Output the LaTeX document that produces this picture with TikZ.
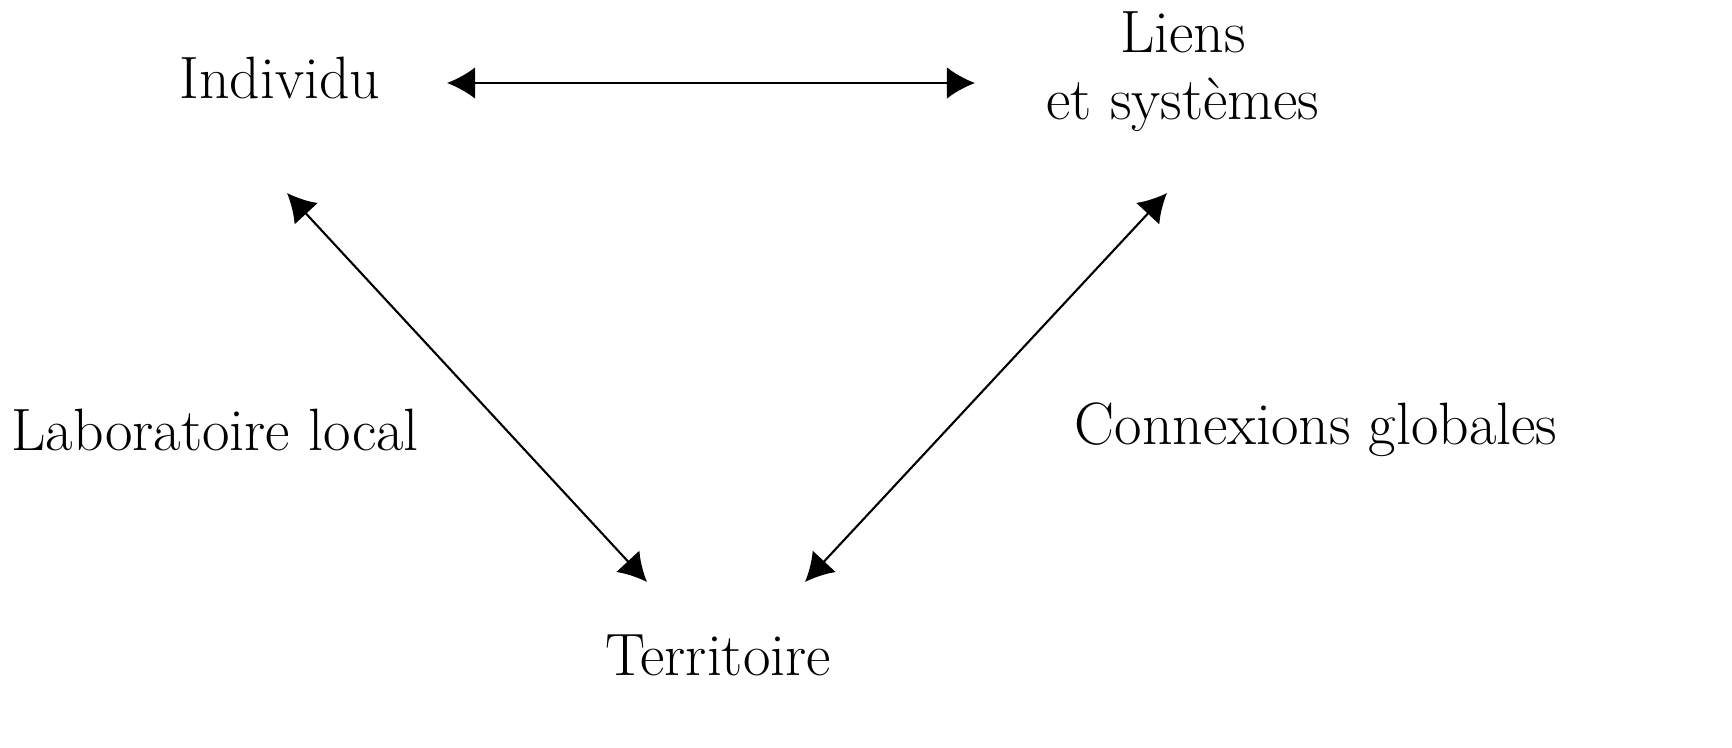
\documentclass[tikz,border=0pt]{standalone}
\usepackage{tikz}
\usetikzlibrary{arrows.meta}
\tikzset{
  lbl/.style={font=\fontsize{17}{21}\selectfont, inner sep=0pt, align=center},
  link/.style={{Latex[length=8pt,width=9pt]}-{Latex[length=8pt,width=9pt]}, line width=0.6pt}
}
\begin{document}
\begin{tikzpicture}[x=0.01cm, y=-0.01cm]
		\useasboundingbox (0,0) rectangle (1732,748);
		% terms
		\node[lbl] (indiv) at (280,78) {Individu};
		\node[lbl] (liens) at (1183,72) {Liens\\[-2pt]et systèmes};
		\node[lbl] (terr) at (718,655) {Territoire};
		\node[lbl] (labo) at (215,430) {Laboratoire local};
		\node[lbl] (conn) at (1316,430) {Connexions globales};
		
		% arrow ends
		\coordinate (a1) at (447,83);
		\coordinate (a2) at (975,83);
		\coordinate (b1) at (287,193);
		\coordinate (b2) at (647,582);
		\coordinate (c1) at (1167,193);
		\coordinate (c2) at (805,582);
		
		\draw[link] (a1) -- (a2);
		\draw[link] (b1) -- (b2);
		\draw[link] (c1) -- (c2);
\end{tikzpicture}
\end{document}
